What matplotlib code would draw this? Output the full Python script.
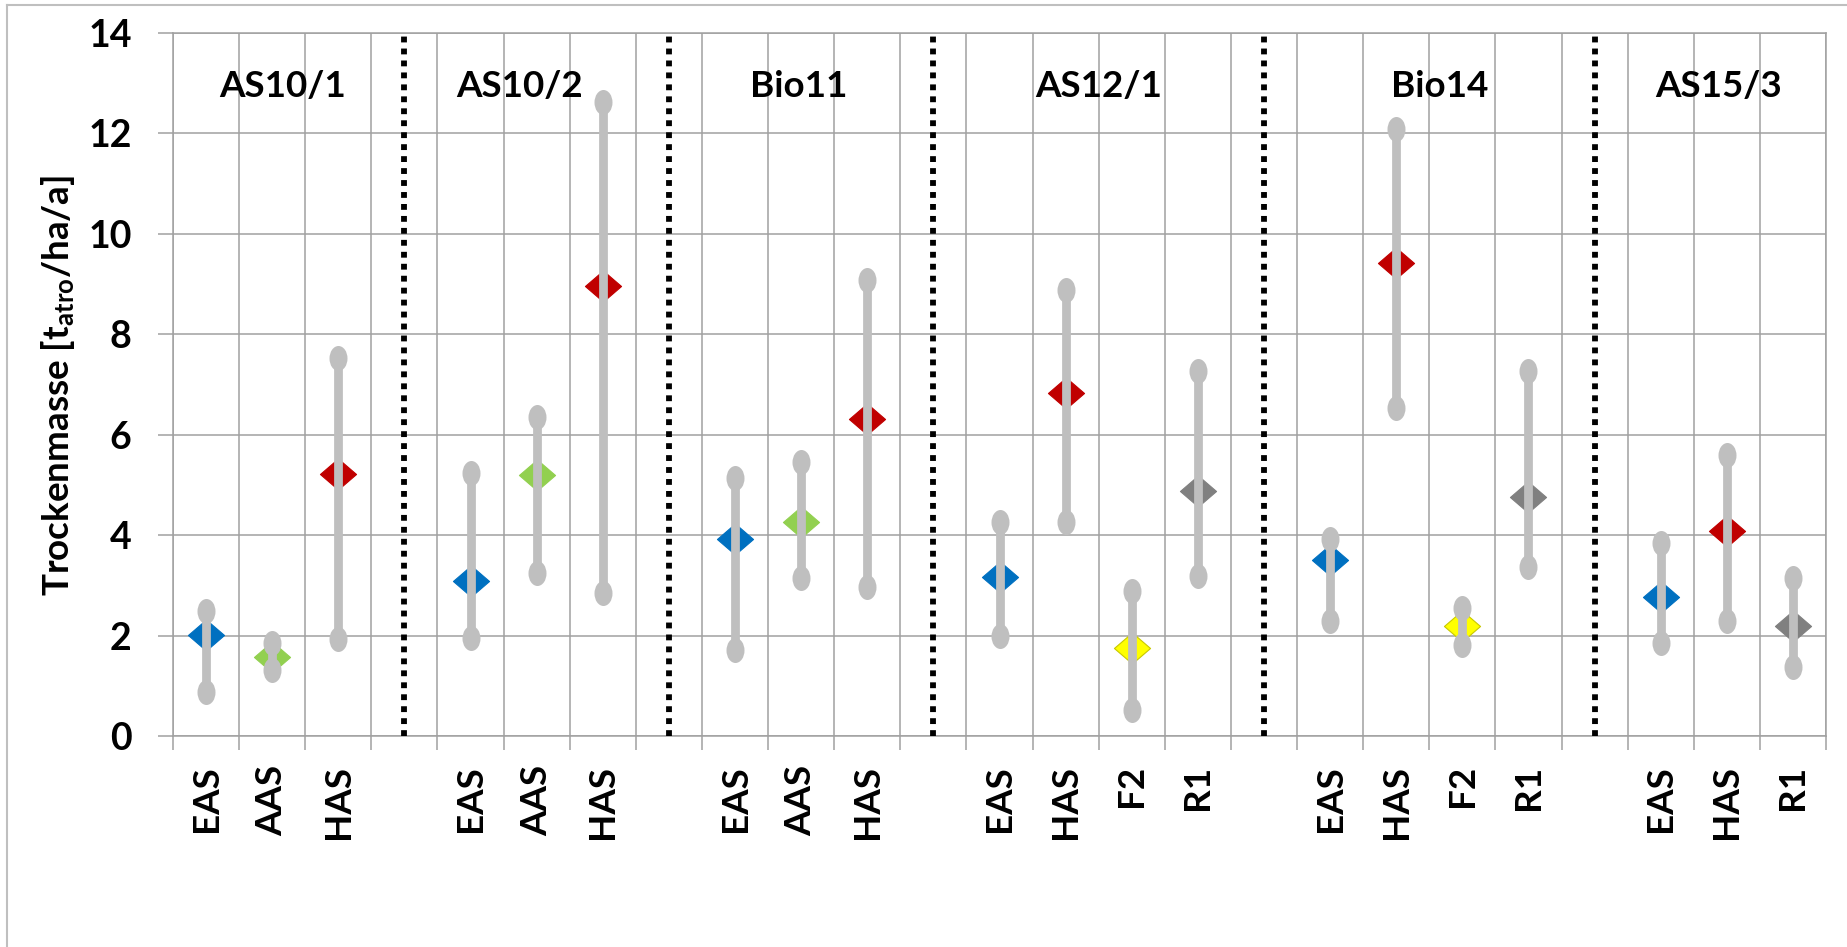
import numpy as np
import matplotlib
matplotlib.use("Agg")
import matplotlib.pyplot as plt
from matplotlib.path import Path
from matplotlib.lines import Line2D

plt.rcParams['font.family'] = ['Lato', 'DejaVu Sans']
plt.rcParams['font.weight'] = 'bold'
plt.rcParams['mathtext.fontset'] = 'custom'
plt.rcParams['mathtext.rm'] = 'Lato:bold'
plt.rcParams['mathtext.it'] = 'Lato:bold'
plt.rcParams['mathtext.bf'] = 'Lato:bold'

# Kategorien ("" = Lücke zwischen den Versuchen)
kategorien = ["EAS", "AAS", "HAS", "",
              "EAS", "AAS", "HAS", "",
              "EAS", "AAS", "HAS", "",
              "EAS", "HAS", "F2", "R1", "",
              "EAS", "HAS", "F2", "R1", "",
              "EAS", "HAS", "R1"]
nan = np.nan
mittel = [2.01, 1.58, 5.21, nan,
          3.08, 5.19, 8.96, nan,
          3.93, 4.27, 6.32, nan,
          3.17, 6.83, 1.75, 4.87, nan,
          3.51, 9.42, 2.19, 4.76, nan,
          2.77, 4.08, 2.19]
minimum = [0.87, 1.31, 1.93, nan,
           1.96, 3.25, 2.85, nan,
           1.72, 3.15, 2.97, nan,
           1.99, 4.27, 0.51, 3.19, nan,
           2.30, 6.54, 1.82, 3.36, nan,
           1.86, 2.30, 1.38]
maximum = [2.49, 1.86, 7.52, nan,
           5.23, 6.35, 12.62, nan,
           5.13, 5.46, 9.08, nan,
           4.26, 8.88, 2.89, 7.26, nan,
           3.92, 12.09, 2.54, 7.26, nan,
           3.85, 5.60, 3.14]
versuche = ["AS10/1", "AS10/2", "Bio11", "AS12/1", "Bio14", "AS15/3"]

farben = {"EAS": "#0070C0", "AAS": "#92D050", "HAS": "#C00000",
          "F2": "#FFFF00", "R1": "#808080"}
kanten = {"EAS": "#0070C0", "AAS": "#92D050", "HAS": "#C00000",
          "F2": "#C8C800", "R1": "#808080"}

# Lage der Versuchsnamen (Kategorie-Index)
label_x = [1.16, 4.74, 8.97, 13.5, 18.65, 22.87]
label_y = 12.94

W, H = 1847, 947
fig = plt.figure(figsize=(W / 100, H / 100), dpi=100)
ax = fig.add_axes([173 / W, 1 - 736 / H, (1826 - 173) / W, (736 - 33) / H])

x = np.arange(len(kategorien))
mittel = np.array(mittel)
minimum = np.array(minimum)
maximum = np.array(maximum)

kreis = Path.unit_circle()
oval = Path(kreis.vertices * [0.72, 1.0], kreis.codes)
raute = Path([(0, 0.86), (1, 0), (0, -0.86), (-1, 0), (0, 0.86)],
             [Path.MOVETO, Path.LINETO, Path.LINETO, Path.LINETO, Path.CLOSEPOLY])

grau = "#BFBFBF"
for i, k in enumerate(kategorien):
    if k == "":
        continue
    ax.plot(x[i], mittel[i], marker=raute, markersize=26, color=farben[k],
            markeredgecolor=kanten[k], markeredgewidth=0.8, zorder=3)
    ax.vlines(x[i], minimum[i], maximum[i], color=grau, lw=6.3, zorder=4)
    ax.plot([x[i], x[i]], [minimum[i], maximum[i]], ls="none", marker=oval,
            markersize=18, color=grau, markeredgewidth=0, zorder=4)

# gepunktete Trennlinien
luecken = [i for i, k in enumerate(kategorien) if k == ""]
ax.vlines(luecken, 0, 14, colors="black", lw=4.2, linestyles=(0, (1.0, 1.05)),
          zorder=5)

for name, lx in zip(versuche, label_x):
    ax.text(lx, label_y, name, ha="center", va="center", fontsize=26.5,
            fontweight="bold", zorder=6)

gitter = "#A0A0A0"
ax.set_xlim(-0.5, len(kategorien) - 0.5)
ax.set_ylim(0, 14)
ax.set_yticks(np.arange(0, 15, 2))
ax.set_xticks(np.arange(-0.5, len(kategorien), 1.0))
ax.set_xticklabels([])
ax.set_xticks(x, minor=True)
ax.set_xticklabels(kategorien, minor=True, rotation=90, fontsize=26.5,
                   fontweight="bold")
ax.tick_params(axis="x", which="minor", length=0, pad=21)
ax.tick_params(axis="x", which="major", length=10, width=1.1, color=gitter)
ax.tick_params(axis="y", which="major", length=10.8, width=1.1, color=gitter,
               labelsize=27, pad=19)
for lab in ax.get_yticklabels():
    lab.set_fontweight("bold")
ax.grid(True, which="major", color=gitter, lw=1.1, zorder=0)
ax.set_axisbelow(True)
for s in ax.spines.values():
    s.set_color(gitter)
    s.set_linewidth(1.1)

fig.text(58 / W, 1 - 385 / H, r"Trockenmasse [t$_{\rm atro}$/ha/a]",
         rotation=90, ha="center", va="center", fontsize=26.5, fontweight="bold")

# Rahmen links und oben
fig.add_artist(Line2D([7 / W, 7 / W], [0, 1 - 5 / H], color=grau, lw=1.5))
fig.add_artist(Line2D([7 / W, 1], [1 - 5 / H, 1 - 5 / H], color=grau, lw=1.5))

fig.savefig("out.png", dpi=100, facecolor="white")
